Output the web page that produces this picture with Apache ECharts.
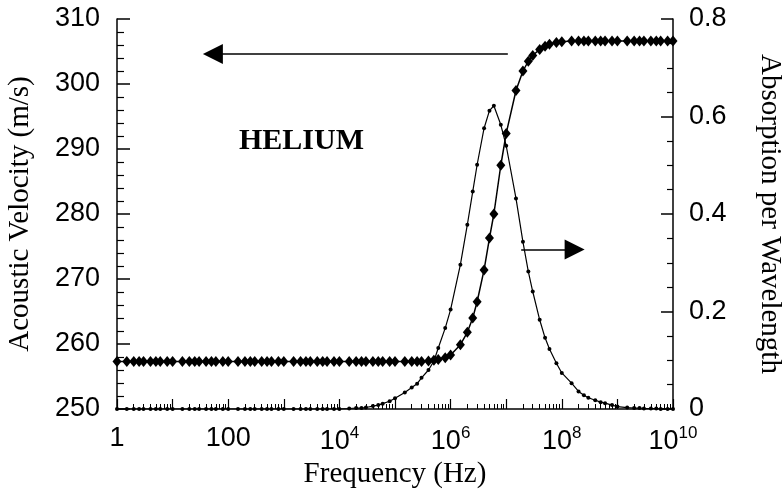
<!DOCTYPE html>
<html>
<head>
<meta charset="utf-8">
<script src="https://cdn.jsdelivr.net/npm/echarts@6/dist/echarts.min.js"></script>
<style>
  html, body { margin: 0; padding: 0; background: #fff; }
  #chart { width: 783px; height: 495px; }
</style>
</head>
<body>
<div id="chart"></div>
<script>
// frequency grid (Hz) shared by both curves
var freqs = [
  1, 1.5, 2, 2.5, 3, 4, 5, 6, 8,
  10, 15, 20, 25, 30, 40, 50, 60, 80,
  100, 150, 200, 250, 300, 400, 500, 600, 800,
  1e3, 1.5e3, 2e3, 2.5e3, 3e3, 4e3, 5e3, 6e3, 8e3,
  1e4, 1.5e4, 2e4, 2.5e4, 3e4, 4e4, 5e4, 6e4, 8e4,
  1e5, 1.5e5, 2e5, 2.5e5, 3e5, 4e5, 5e5, 6e5, 8e5,
  1e6, 1.5e6, 2e6, 2.5e6, 3e6, 4e6, 5e6, 6e6, 8e6,
  1e7, 1.5e7, 2e7, 2.5e7, 3e7, 4e7, 5e7, 6e7, 8e7,
  1e8, 1.5e8, 2e8, 2.5e8, 3e8, 4e8, 5e8, 6e8, 8e8,
  1e9, 1.5e9, 2e9, 2.5e9, 3e9, 4e9, 5e9, 6e9, 8e9,
  1e10
];

// acoustic velocity (m/s), left axis
var velocity = [
  257.3, 257.3, 257.3, 257.3, 257.3, 257.3, 257.3, 257.3, 257.3,
  257.3, 257.3, 257.3, 257.3, 257.3, 257.3, 257.3, 257.3, 257.3,
  257.3, 257.3, 257.3, 257.3, 257.3, 257.3, 257.3, 257.3, 257.3,
  257.3, 257.3, 257.3, 257.3, 257.3, 257.3, 257.3, 257.3, 257.3,
  257.3, 257.3, 257.3, 257.3, 257.3, 257.3, 257.3, 257.3, 257.3,
  257.3, 257.3, 257.3, 257.3, 257.3, 257.4, 257.5, 257.6, 257.9,
  258.3, 259.9, 261.8, 264.0, 266.5, 271.4, 276.3, 280.0, 287.5,
  292.4, 299.0, 302.0, 303.5, 304.4, 305.3, 305.8, 306.1, 306.4,
  306.5, 306.6, 306.6, 306.6, 306.6, 306.6, 306.6, 306.6, 306.6,
  306.6, 306.6, 306.6, 306.6, 306.6, 306.6, 306.6, 306.6, 306.6,
  306.6
];

// absorption per wavelength, right axis
var absorption = [
  0, 0, 0, 0, 0, 0, 0, 0, 0,
  0, 0, 0, 0, 0, 0, 0, 0, 0,
  0, 0, 0, 0, 0, 0, 0, 0, 0,
  0, 0, 0, 0, 0, 0, 0, 0, 0,
  0, 0.001, 0.002, 0.002, 0.003, 0.006, 0.008, 0.011, 0.016,
  0.022, 0.034, 0.044, 0.052, 0.064, 0.080, 0.098, 0.125, 0.166,
  0.204, 0.296, 0.378, 0.446, 0.501, 0.576, 0.612, 0.622, 0.583,
  0.540, 0.432, 0.343, 0.282, 0.241, 0.183, 0.146, 0.123, 0.094,
  0.074, 0.053, 0.036, 0.028, 0.023, 0.018, 0.014, 0.012, 0.008,
  0.005, 0.003, 0.002, 0.002, 0.001, 0.001, 0.001, 0, 0,
  0
];

var xLabelValues = [1, 100, 1e4, 1e6, 1e8, 1e10];
var xDecades = [1, 10, 100, 1e3, 1e4, 1e5, 1e6, 1e7, 1e8, 1e9, 1e10];
var xMinorTicks = [];
xDecades.slice(0, 10).forEach(function (d) {
  for (var m = 2; m <= 9; m++) xMinorTicks.push(m * d);
});

var chart = echarts.init(document.getElementById('chart'));

function xLabel(v) {
  if (v < 1.5) return '1';
  if (v > 50 && v < 150) return '100';
  var e = Math.round(Math.log10(v));
  return '{b|10}{s|' + e + '}';
}

var tickFont = { fontFamily: 'Liberation Sans', fontSize: 27, color: '#000' };
var nameFont = { fontFamily: 'Liberation Serif', fontSize: 29, color: '#000' };

var option = {
  animation: false,
  grid: { left: 117, right: 110, top: 19, bottom: 86, outerBoundsMode: 'none', containLabel: false },
  xAxis: [
    {
      type: 'log',
      logBase: 10,
      min: 1,
      max: 1e10,
      name: 'Frequency (Hz)',
      nameLocation: 'middle',
      nameGap: 50,
      nameTextStyle: nameFont,
      axisLine: { lineStyle: { color: '#000', width: 1.5 } },
      axisTick: { inside: true, length: 10, customValues: xDecades, lineStyle: { color: '#000', width: 1.2 } },
      axisLabel: {
        customValues: xLabelValues,
        formatter: xLabel,
        margin: 16,
        fontFamily: 'Liberation Sans',
        fontSize: 27,
        color: '#000',
        rich: {
          b: { fontFamily: 'Liberation Sans', fontSize: 27, color: '#000', lineHeight: 30, verticalAlign: 'bottom' },
          s: { fontFamily: 'Liberation Sans', fontSize: 17, color: '#000', lineHeight: 30, verticalAlign: 'top' }
        }
      },
      splitLine: { show: false }
    },
    {
      type: 'log',
      logBase: 10,
      min: 1,
      max: 1e10,
      position: 'bottom',
      axisLine: { show: false },
      axisTick: { inside: true, length: 5, customValues: xMinorTicks, lineStyle: { color: '#000', width: 1 } },
      axisLabel: { show: false },
      splitLine: { show: false }
    }
  ],
  yAxis: [
    {
      type: 'value',
      min: 250,
      max: 310,
      interval: 10,
      name: 'Acoustic Velocity (m/s)',
      nameLocation: 'middle',
      nameGap: 82,
      nameTextStyle: nameFont,
      axisLine: { show: true, lineStyle: { color: '#000', width: 1.5 } },
      axisTick: { show: true, inside: true, length: 13, lineStyle: { color: '#000', width: 1.5 } },
      minorTick: { show: true, splitNumber: 5, length: 7, lineStyle: { color: '#000', width: 1.2 } },
      axisLabel: Object.assign({ margin: 17 }, tickFont),
      splitLine: { show: false }
    },
    {
      type: 'value',
      min: 0,
      max: 0.8,
      interval: 0.2,
      position: 'right',
      name: 'Absorption per Wavelength',
      nameLocation: 'middle',
      nameGap: 82,
      nameRotate: -90,
      nameTextStyle: nameFont,
      axisLine: { show: true, lineStyle: { color: '#000', width: 1.5 } },
      axisTick: { show: true, inside: true, length: 12, lineStyle: { color: '#000', width: 1.5 } },
      minorTick: { show: true, splitNumber: 4, length: 6, lineStyle: { color: '#000', width: 1.2 } },
      axisLabel: Object.assign({
        margin: 16,
        formatter: function (v) { return v === 0 ? '0' : v.toFixed(1); }
      }, tickFont),
      splitLine: { show: false }
    }
  ],
  graphic: [
    {
      type: 'text',
      left: 239,
      top: 126,
      style: { text: 'HELIUM', font: 'bold 30px "Liberation Serif"', fill: '#000' }
    }
  ],
  series: [
    {
      name: 'Velocity',
      type: 'line',
      xAxisIndex: 0,
      yAxisIndex: 0,
      data: freqs.map(function (f, i) { return [f, velocity[i]]; }),
      symbol: 'diamond',
      symbolSize: [9, 11],
      itemStyle: { color: '#000' },
      lineStyle: { color: '#000', width: 1.5 },
      markLine: {
        silent: true,
        symbol: ['none', 'triangle'],
        symbolSize: 20,
        label: { show: false },
        lineStyle: { color: '#000', width: 1.5, type: 'solid' },
        data: [[{ coord: [1.07e7, 304.6] }, { coord: [53, 304.6] }]]
      }
    },
    {
      name: 'Absorption',
      type: 'line',
      xAxisIndex: 0,
      yAxisIndex: 1,
      data: freqs.map(function (f, i) { return [f, absorption[i]]; }),
      symbol: 'circle',
      symbolSize: 4,
      itemStyle: { color: '#000' },
      lineStyle: { color: '#000', width: 1.2 },
      markLine: {
        silent: true,
        symbol: ['none', 'triangle'],
        symbolSize: 20,
        label: { show: false },
        lineStyle: { color: '#000', width: 1.5, type: 'solid' },
        data: [[{ coord: [1.86e7, 0.327] }, { coord: [1.7e8, 0.327] }]]
      }
    }
  ]
};

chart.setOption(option);
</script>
</body>
</html>
